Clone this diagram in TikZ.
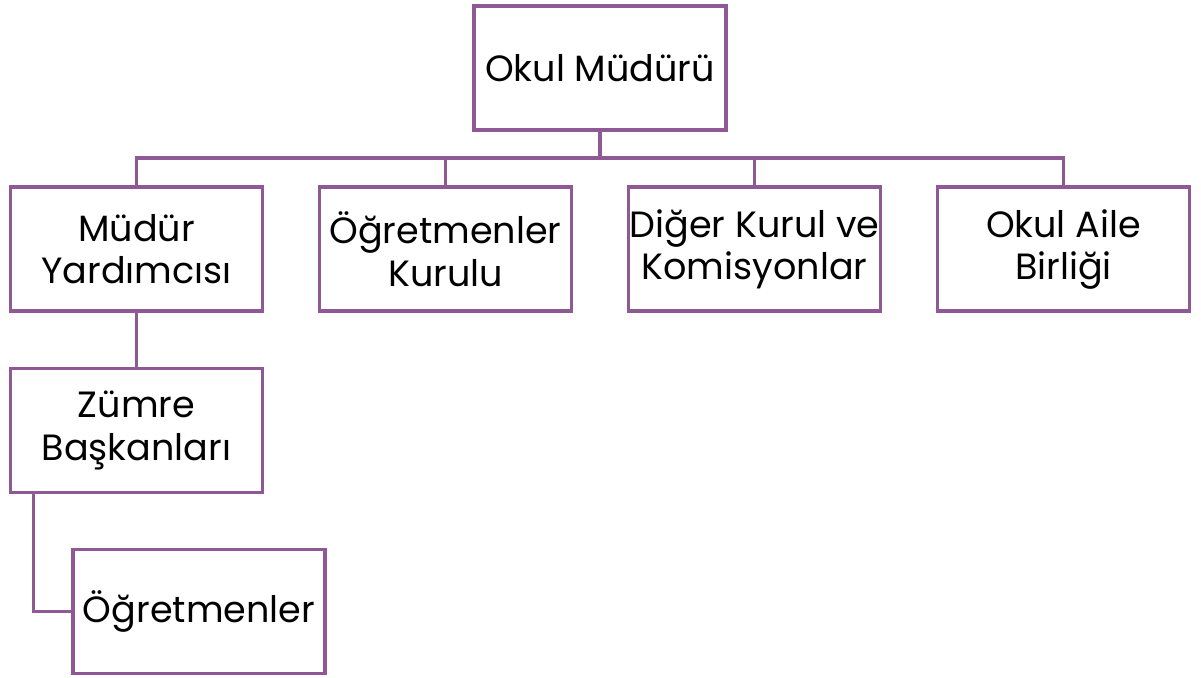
\documentclass[tikz,border=0pt]{standalone}
\usepackage{fontspec}
\setmainfont{Poppins}
\definecolor{orgpurple}{RGB}{142,89,148}

\begin{document}
\begin{tikzpicture}[level distance=4.53cm,
		box/.style={rectangle,draw=orgpurple,line width=0.09cm,fill=white,
			minimum width=6.3cm,minimum height=3.1cm,inner sep=0pt,align=center,
			font=\fontsize{26}{30}\selectfont},
		level 1/.style={sibling distance=7.725cm,
			edge from parent path={(\tikzparentnode.south) -- ++(0,-0.65) -| (\tikzchildnode.north)}},
		level 2/.style={edge from parent path={(\tikzparentnode.south) -- (\tikzchildnode.north)}},
		level 3/.style={edge from parent path={([xshift=0.625cm]\tikzparentnode.south west) |- (\tikzchildnode.west)}},
		edge from parent/.style={draw=orgpurple,line width=0.09cm}]
		\useasboundingbox (0,0) rectangle (30.025,-16.95);
		\node[box](mudur) at (15,-1.7){Okul Müdürü}
		child{
			node[box](yardimci){Müdür\\Yardımcısı}
			child{node[box](zumre){Zümre\\Başkanları}
				child{node[box,xshift=1.5625cm](ogretmen){Öğretmenler}}}}
		child{node[box](kurul){Öğretmenler\\Kurulu}}
		child{node[box](komisyon){Diğer Kurul ve\\Komisyonlar}}
		child{node[box](aile){Okul Aile\\Birliği}};
	\end{tikzpicture}
\end{document}
